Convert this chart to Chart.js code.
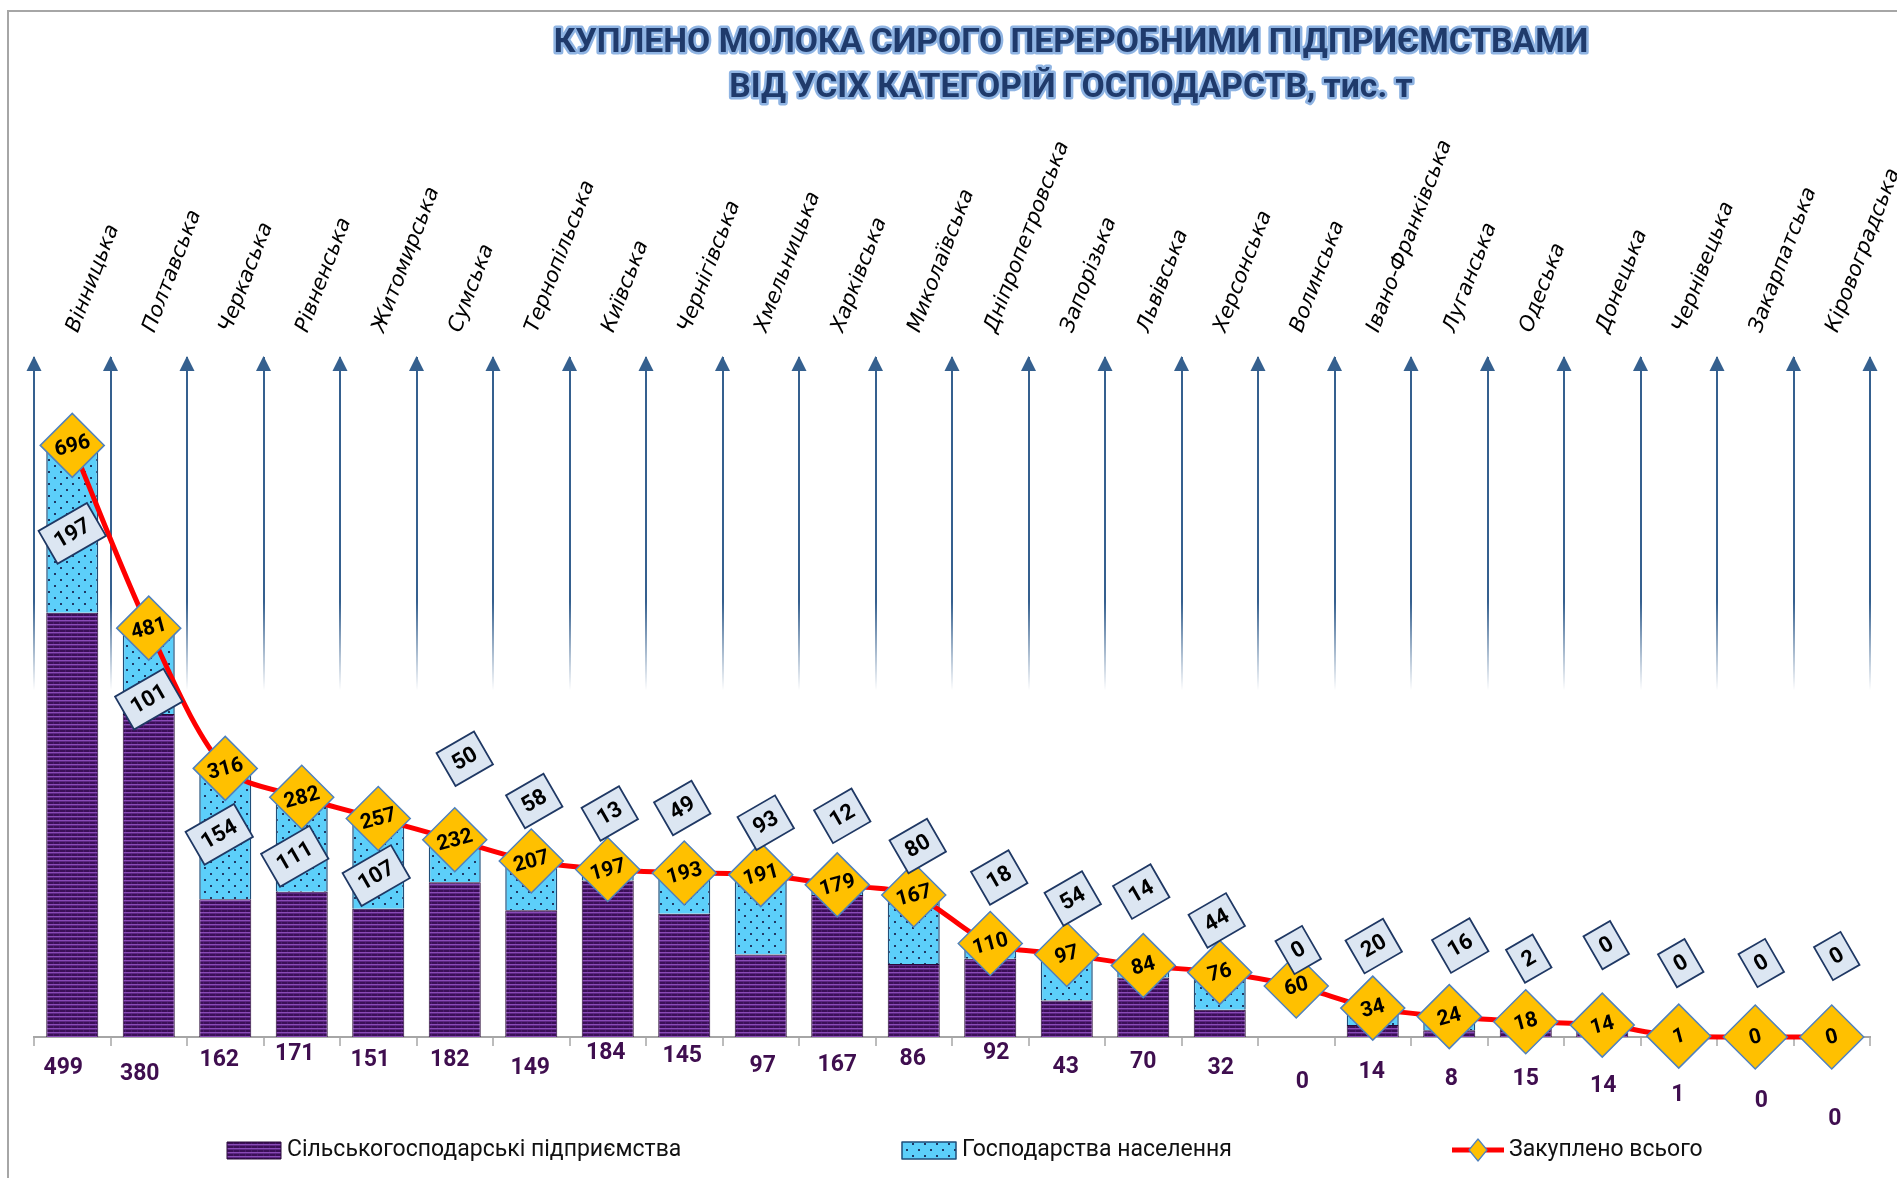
<!DOCTYPE html>
<html>
<head>
<meta charset="utf-8">
<title>Куплено молока сирого</title>
<script src="https://cdn.jsdelivr.net/npm/chart.js@4.4.1/dist/chart.umd.min.js"></script>
<style>
  html, body { margin: 0; padding: 0; background: #fff; overflow: hidden; }
  #frame {
    position: absolute; left: 7px; top: 10px;
    width: 1890px; height: 1168px;
    border-left: 2px solid #a6a6a6; border-top: 2px solid #a6a6a6;
  }
  #milkChart { display: block; }
</style>
</head>
<body>
<div id="frame"><canvas id="milkChart" width="1888" height="1166"></canvas></div>
<script>
// data, thousand tonnes
const regions = ['Вінницька', 'Полтавська', 'Черкаська', 'Рівненська', 'Житомирська', 'Сумська',
  'Тернопільська', 'Київська', 'Чернігівська', 'Хмельницька', 'Харківська', 'Миколаївська',
  'Дніпропетровська', 'Запорізька', 'Львівська', 'Херсонська', 'Волинська', 'Івано-Франківська',
  'Луганська', 'Одеська', 'Донецька', 'Чернівецька', 'Закарпатська', 'Кіровоградська'];
const enterprises = [499, 380, 162, 171, 151, 182, 149, 184, 145, 97, 167, 86, 92, 43, 70, 32, 0, 14, 8, 15, 14, 1, 0, 0];
const households = [197, 101, 154, 111, 107, 50, 58, 13, 49, 93, 12, 80, 18, 54, 14, 44, 0, 20, 16, 2, 0, 0, 0, 0];
const totalBought = [696, 481, 316, 282, 257, 232, 207, 197, 193, 191, 179, 167, 110, 97, 84, 76, 60, 34, 24, 18, 14, 1, 0, 0];

const seriesNames = ['Сільськогосподарські підприємства', 'Господарства населення', 'Закуплено всього'];
const titleLines = ['КУПЛЕНО МОЛОКА СИРОГО ПЕРЕРОБНИМИ ПІДПРИЄМСТВАМИ', 'ВІД УСІХ КАТЕГОРІЙ ГОСПОДАРСТВ, тис. т'];

// label nudges (px) as placed by hand in the original
const enterpriseLabelShift = [[-9, 31], [-9, 37], [-6, 23], [-7, 17], [-8, 23], [-5, 23], [-1, 31], [-2, 16],
  [-2, 19], [2, 29], [0, 28], [-1, 22], [6, 16], [-1, 30], [0, 25], [1, 31], [6, 45], [-1, 35], [2, 42],
  [0, 42], [1, 49], [-1, 58], [6, 64], [3, 82]];
const householdLabelShift = [[0, 88], [0, 71], [-6, 66], [-7, 59], [-2, 57], [10, -81], [3, -60], [2, -56],
  [-2, -65], [5, -52], [5, -69], [4, -49], [9, -66], [6, -56], [-2, -74], [-3, -52], [2, -36], [1, -62],
  [11, -71], [3, -63], [4, -80], [2, -73], [6, -74], [5, -81]];

const FONT = 'Roboto, "Open Sans", sans-serif';
const arrowBlue = '#35608f';

function purplePattern(ctx) {
  const c = document.createElement('canvas');
  c.width = 6; c.height = 4;
  const p = c.getContext('2d');
  p.fillStyle = '#3b0f57'; p.fillRect(0, 0, 6, 4);
  p.fillStyle = '#8a4bb8'; p.fillRect(0, 0, 6, 1);
  p.fillStyle = '#5c2682'; p.fillRect(0, 1, 6, 1);
  p.fillStyle = '#4a1a6c'; p.fillRect(2, 2, 1, 2);
  return ctx.createPattern(c, 'repeat');
}

function dottedBlue(ctx) {
  const c = document.createElement('canvas');
  c.width = 12; c.height = 12;
  const p = c.getContext('2d');
  p.fillStyle = '#5ccffa'; p.fillRect(0, 0, 12, 12);
  p.fillStyle = '#1f3864';
  p.fillRect(3, 3, 2, 2);
  p.fillRect(9, 9, 2, 2);
  return ctx.createPattern(c, 'repeat');
}

const canvas = document.getElementById('milkChart');
const ctx = canvas.getContext('2d');
const purpleFill = purplePattern(ctx);
const blueFill = dottedBlue(ctx);

function fadingGrid(context) {
  const area = context.chart.chartArea;
  if (!area) return 'transparent';
  const g = context.chart.ctx.createLinearGradient(0, area.top, 0, area.bottom);
  g.addColorStop(0, arrowBlue);
  g.addColorStop(0.36, arrowBlue);
  g.addColorStop(0.49, 'rgba(53,96,143,0)');
  g.addColorStop(1, 'rgba(53,96,143,0)');
  return g;
}

const arrowHeads = {
  id: 'arrowHeads',
  beforeDatasetsDraw(chart) {
    const { ctx, chartArea, scales } = chart;
    const x = scales.x;
    const step = x.getPixelForValue(1) - x.getPixelForValue(0);
    const first = x.getPixelForValue(0) - step / 2;
    ctx.save();
    ctx.fillStyle = arrowBlue;
    for (let i = 0; i <= regions.length; i++) {
      const bx = first + i * step;
      ctx.beginPath();
      ctx.moveTo(bx, chartArea.top - 1);
      ctx.lineTo(bx - 7.5, chartArea.top + 14);
      ctx.lineTo(bx + 7.5, chartArea.top + 14);
      ctx.closePath();
      ctx.fill();
    }
    ctx.restore();
  }
};

const valueLabels = {
  id: 'valueLabels',
  afterDatasetsDraw(chart) {
    const { ctx, chartArea, scales } = chart;
    const x = scales.x;
    const points = chart.getDatasetMeta(2).data;
    ctx.save();
    ctx.textAlign = 'center';
    ctx.textBaseline = 'middle';

    // enterprises under the axis
    ctx.font = 'bold 23px ' + FONT;
    ctx.fillStyle = '#3f0e4f';
    enterprises.forEach((v, i) => {
      const [dx, dy] = enterpriseLabelShift[i];
      ctx.fillText(String(v), x.getPixelForValue(i) + dx, chartArea.bottom + dy);
    });

    // totals inside the diamonds
    ctx.font = 'bold 21px ' + FONT;
    ctx.fillStyle = '#000';
    points.forEach((pt, i) => {
      ctx.save();
      ctx.translate(pt.x, pt.y);
      ctx.rotate(-15 * Math.PI / 180);
      ctx.fillText(String(totalBought[i]), 0, 1);
      ctx.restore();
    });

    // households in tilted boxes
    ctx.font = 'bold 22px ' + FONT;
    points.forEach((pt, i) => {
      const [dx, dy] = householdLabelShift[i];
      const txt = String(households[i]);
      const w = ctx.measureText(txt).width + 18;
      const h = 38;
      ctx.save();
      ctx.translate(pt.x + dx, pt.y + dy);
      ctx.rotate(-30 * Math.PI / 180);
      ctx.fillStyle = '#dce6f2';
      ctx.strokeStyle = '#1f3864';
      ctx.lineWidth = 1.8;
      ctx.fillRect(-w / 2, -h / 2, w, h);
      ctx.strokeRect(-w / 2, -h / 2, w, h);
      ctx.fillStyle = '#000';
      ctx.fillText(txt, 0, 1);
      ctx.restore();
    });
    ctx.restore();
  }
};

const titleAndLegend = {
  id: 'titleAndLegend',
  afterDraw(chart) {
    const ctx = chart.ctx;
    ctx.save();
    // title with light outline
    ctx.font = 'bold 100px ' + FONT;
    const size = 100 * 1035 / ctx.measureText(titleLines[0]).width;
    ctx.font = 'bold ' + size.toFixed(1) + 'px ' + FONT;
    ctx.textAlign = 'center';
    ctx.textBaseline = 'middle';
    ctx.lineJoin = 'round';
    [32, 77].forEach((y, k) => {
      ctx.strokeStyle = '#8fb4e3';
      ctx.lineWidth = 5;
      ctx.strokeText(titleLines[k], 1062, y);
      ctx.fillStyle = '#1f3a6b';
      ctx.fillText(titleLines[k], 1062, y);
    });

    // legend
    const ly = 1138;
    ctx.font = '23px ' + FONT;
    ctx.textAlign = 'left';
    ctx.fillStyle = purpleFill;
    ctx.fillRect(218, ly - 8, 54, 17);
    ctx.strokeStyle = '#2a0a3a'; ctx.lineWidth = 1;
    ctx.strokeRect(218, ly - 8, 54, 17);
    ctx.fillStyle = blueFill;
    ctx.fillRect(893, ly - 8, 54, 17);
    ctx.strokeStyle = '#1f4e79'; ctx.lineWidth = 1.5;
    ctx.strokeRect(893, ly - 8, 54, 17);
    ctx.strokeStyle = '#ff0000'; ctx.lineWidth = 5;
    ctx.beginPath(); ctx.moveTo(1443, ly); ctx.lineTo(1495, ly); ctx.stroke();
    ctx.fillStyle = '#ffc000'; ctx.strokeStyle = '#4f81bd'; ctx.lineWidth = 1.2;
    ctx.beginPath();
    ctx.moveTo(1469, ly - 11); ctx.lineTo(1478, ly); ctx.lineTo(1469, ly + 11); ctx.lineTo(1460, ly);
    ctx.closePath(); ctx.fill(); ctx.stroke();
    ctx.fillStyle = '#111';
    ctx.fillText(seriesNames[0], 278, ly);
    ctx.fillText(seriesNames[1], 953, ly);
    ctx.fillText(seriesNames[2], 1500, ly);
    ctx.restore();
  }
};

new Chart(ctx, {
  type: 'bar',
  data: {
    labels: regions,
    datasets: [{
      label: seriesNames[0],
      data: enterprises,
      backgroundColor: purpleFill,
      borderColor: '#2a0a3a',
      borderWidth: 1,
      order: 2
    }, {
      label: seriesNames[1],
      data: households,
      backgroundColor: blueFill,
      borderColor: '#1f4e79',
      borderWidth: 1.5,
      order: 2
    }, {
      type: 'line',
      label: seriesNames[2],
      data: totalBought,
      borderColor: '#ff0000',
      borderWidth: 5,
      tension: 0.3,
      pointStyle: 'rectRot',
      pointRadius: 32,
      pointBackgroundColor: '#ffc000',
      pointBorderColor: '#4f81bd',
      pointBorderWidth: 1.5,
      clip: false,
      order: 1
    }]
  },
  options: {
    responsive: false,
    animation: false,
    layout: { autoPadding: false, padding: { left: 25, right: 27, top: 0, bottom: 0 } },
    datasets: { bar: { barPercentage: 0.68, categoryPercentage: 1 } },
    plugins: {
      legend: { display: false },
      title: { display: false },
      tooltip: { enabled: false }
    },
    scales: {
      x: {
        stacked: true,
        offset: true,
        position: 'bottom',
        grid: {
          offset: true,
          color: fadingGrid,
          lineWidth: 2,
          tickColor: '#a6a6a6',
          tickLength: 9,
          tickWidth: 1.5
        },
        border: { color: '#a6a6a6', width: 2 },
        ticks: { display: false },
        afterFit(scale) {
          scale.height = 141;
          scale.paddingLeft = 0;
          scale.paddingRight = 0;
        }
      },
      xTop: {
        type: 'category',
        position: 'top',
        offset: true,
        grid: { display: false, drawTicks: false },
        border: { display: false },
        ticks: {
          autoSkip: false,
          minRotation: 69,
          maxRotation: 69,
          padding: 21,
          labelOffset: 24,
          color: '#000',
          font: { family: '"DejaVu Sans"', style: 'italic', size: 21 }
        },
        afterFit(scale) {
          scale.height = 345;
          scale.paddingLeft = 0;
          scale.paddingRight = 0;
        }
      },
      y: {
        stacked: true,
        display: false,
        min: 0,
        max: 800
      }
    }
  },
  plugins: [arrowHeads, valueLabels, titleAndLegend]
});
</script>
</body>
</html>
